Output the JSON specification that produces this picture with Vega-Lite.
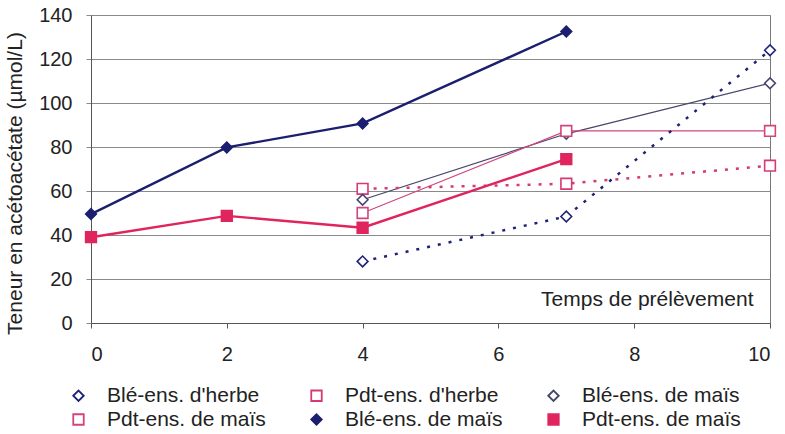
{
  "$schema": "https://vega.github.io/schema/vega-lite/v6.json",
  "autosize": {"type": "none"},
  "width": 679,
  "height": 308,
  "padding": {"left": 91, "top": 15, "right": 15, "bottom": 111},
  "background": "white",
  "config": {
    "font": "Liberation Sans",
    "view": {"stroke": "#777", "strokeWidth": 1},
    "axis": {
      "labelFont": "Liberation Sans",
      "titleFont": "Liberation Sans",
      "labelColor": "#222",
      "titleColor": "#222",
      "titleFontWeight": "normal",
      "domainColor": "#555",
      "tickColor": "#555",
      "gridColor": "#8a8a8a",
      "gridOpacity": 1
    }
  },
  "data": {
    "values": [
      {"series": "s1", "t": 4, "v": 28},
      {"series": "s1", "t": 7, "v": 48.4},
      {"series": "s1", "t": 10, "v": 124},
      {"series": "s2", "t": 4, "v": 61},
      {"series": "s2", "t": 7, "v": 63.3},
      {"series": "s2", "t": 10, "v": 71.5},
      {"series": "s3", "t": 4, "v": 56},
      {"series": "s3", "t": 7, "v": 86},
      {"series": "s3", "t": 10, "v": 109},
      {"series": "s4", "t": 4, "v": 50},
      {"series": "s4", "t": 7, "v": 87.3},
      {"series": "s4", "t": 10, "v": 87.3},
      {"series": "s5", "t": 0, "v": 49.5},
      {"series": "s5", "t": 2, "v": 79.8},
      {"series": "s5", "t": 4, "v": 90.7},
      {"series": "s5", "t": 7, "v": 132.5},
      {"series": "s6", "t": 0, "v": 39},
      {"series": "s6", "t": 2, "v": 48.7},
      {"series": "s6", "t": 4, "v": 43.3},
      {"series": "s6", "t": 7, "v": 74.5}
    ]
  },
  "encoding": {
    "x": {
      "field": "t",
      "type": "quantitative",
      "scale": {"domain": [0, 10], "nice": false},
      "axis": {
        "values": [0, 2, 4, 6, 8, 10],
        "grid": false,
        "labelFontSize": 20,
        "labelPadding": 16,
        "tickSize": 5,
        "title": "Temps de prélèvement",
        "titleFontSize": 21,
        "titleX": 662,
        "titleY": -18,
        "titleAlign": "right",
        "titleBaseline": "alphabetic",
        "titleAnchor": "end"
      }
    },
    "y": {
      "field": "v",
      "type": "quantitative",
      "scale": {"domain": [0, 140], "nice": false},
      "axis": {
        "values": [0, 20, 40, 60, 80, 100, 120, 140],
        "grid": true,
        "labelFontSize": 20,
        "labelPadding": 14,
        "tickSize": 5,
        "tickColor": "#8a8a8a",
        "title": "Teneur en acétoacétate (µmol/L)",
        "titleFontSize": 21,
        "titlePadding": 13,
        "titleY": 168
      }
    }
  },
  "layer": [
    {
      "transform": [{"filter": "datum.series == 's3' || datum.series == 's4'"}],
      "mark": {"type": "line", "strokeWidth": 1.2},
      "encoding": {
        "color": {
          "field": "series",
          "type": "nominal",
          "scale": {
            "domain": ["s1", "s2", "s3", "s4", "s5", "s6"],
            "range": ["#1f2378", "#d63a74", "#45456e", "#d0467c", "#1b1f6e", "#e0245e"]
          },
          "legend": {
            "orient": "none",
            "legendX": -43,
            "legendY": 370,
            "columns": 3,
            "direction": "horizontal",
            "title": null,
            "columnPadding": 20,
            "rowPadding": 2,
            "symbolSize": 110,
            "symbolStrokeWidth": 1.8,
            "symbolOffset": 20,
            "labelOffset": 18,
            "labelFont": "Liberation Sans",
            "labelFontSize": 21,
            "labelColor": "#222",
            "symbolOpacity": 1,
            "labelExpr": "datum.value == 's1' ? \"Blé-ens. d'herbe\" : datum.value == 's2' ? \"Pdt-ens. d'herbe\" : (datum.value == 's3' || datum.value == 's5') ? 'Blé-ens. de maïs' : 'Pdt-ens. de maïs'"
          }
        }
      }
    },
    {
      "transform": [{"filter": "datum.series == 's1' || datum.series == 's2'"}],
      "mark": {"type": "line", "strokeWidth": 2.5, "strokeDash": [3, 8]},
      "encoding": {"color": {"field": "series", "type": "nominal"}}
    },
    {
      "transform": [{"filter": "datum.series == 's5' || datum.series == 's6'"}],
      "mark": {"type": "line", "strokeWidth": 2.4},
      "encoding": {"color": {"field": "series", "type": "nominal"}}
    },
    {
      "mark": {"type": "point", "filled": false, "strokeWidth": 1.6, "size": 115, "opacity": 1},
      "encoding": {
        "color": {"field": "series", "type": "nominal"},
        "shape": {
          "field": "series",
          "type": "nominal",
          "scale": {
            "domain": ["s1", "s2", "s3", "s4", "s5", "s6"],
            "range": ["diamond", "square", "diamond", "square", "diamond", "square"]
          }
        },
        "fill": {
          "field": "series",
          "type": "nominal",
          "scale": {
            "domain": ["s1", "s2", "s3", "s4", "s5", "s6"],
            "range": ["white", "white", "white", "white", "#1b1f6e", "#e0245e"]
          }
        }
      }
    }
  ]
}
